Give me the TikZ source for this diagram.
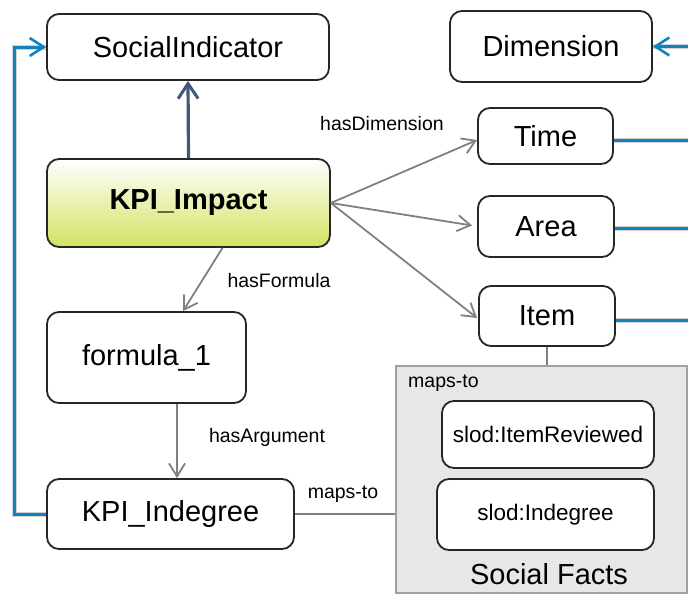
\documentclass[tikz,border=0pt]{standalone}
\usepackage{fontspec}
\setmainfont{Liberation Sans}
\usetikzlibrary{arrows.meta,calc}
\definecolor{linkblue}{RGB}{16,130,192}
\definecolor{slateblue}{RGB}{64,88,126}
\definecolor{relgrey}{RGB}{128,128,130}
\definecolor{factfill}{RGB}{230,231,232}
\definecolor{factedge}{RGB}{160,160,162}
\definecolor{kpigreen}{RGB}{212,226,98}
\tikzset{
  box/.style={draw=black!85, line width=1.8pt, rounded corners=12pt, fill=white,
    inner sep=0pt, font=\fontsize{29}{32}\selectfont, align=center},
  smallbox/.style={box, font=\fontsize{22.5}{26}\selectfont},
  rel/.style={draw=relgrey, line width=1.8pt,
    -{Straight Barb[length=13pt,width=16pt,line width=1.8pt]}},
  plainrel/.style={draw=relgrey, line width=1.8pt},
  lbl/.style={font=\fontsize{19.5}{22}\selectfont, inner sep=0pt},
  blueline/.style={draw=linkblue, line width=3pt},
  blueshadow/.style={draw=black, opacity=0.18, line width=5pt},
  bluetip/.style={-{Straight Barb[length=14pt,width=18pt,line width=2.6pt]}},
}
\begin{document}
\begin{tikzpicture}[x=1pt,y=-1pt]
\useasboundingbox (0,0) rectangle (688,595);

% social facts container
\node[draw=factedge, fill=factfill, line width=1.5pt, minimum width=291pt,
      minimum height=227pt, inner sep=0pt] (SF) at (541.5,479.5) {};
\node[lbl, anchor=west] (SFmaps) at (408,383) {maps-to};
\node[font=\fontsize{29}{32}\selectfont, inner sep=0pt] (SFtitle) at (549,574) {Social Facts};

% nodes
\node[box, minimum width=282pt, minimum height=66pt] (SI) at (188,47) {SocialIndicator};
\node[box, minimum width=202pt, minimum height=71pt] (Dim) at (551,46.5) {Dimension};
\node[box, minimum width=135pt, minimum height=56pt] (Time) at (545.5,136) {Time};
\node[box, minimum width=136pt, minimum height=61pt] (Area) at (546,226.5) {Area};
\node[box, minimum width=136pt, minimum height=60pt] (Item) at (547,316) {Item};
\node[box, top color=white, bottom color=kpigreen, minimum width=283pt,
      minimum height=88pt, font=\fontsize{29}{32}\selectfont\bfseries] (KPI) at (188.5,203) {KPI\_Impact};
\node[box, minimum width=199pt, minimum height=91pt] (F1) at (146.5,357.5) {formula\_1};
\node[box, minimum width=247pt, minimum height=70pt] (KIn) at (170.5,514) {KPI\_Indegree};
\node[smallbox, minimum width=212pt, minimum height=67pt] (IR) at (548,434.5) {slod:ItemReviewed};
\node[smallbox, minimum width=217pt, minimum height=71pt] (SInd) at (545.5,514.5) {slod:Indegree};

% edge labels
\node[lbl] (lDim) at (382,124) {hasDimension};
\node[lbl] (lForm) at (279,281) {hasFormula};
\node[lbl] (lArg) at (267,437) {hasArgument};
\node[lbl] (lMap) at (343,494) {maps-to};

% free ends leaving the right margin
\coordinate (timeOut) at (690,140);
\coordinate (areaOut) at (690,228);
\coordinate (itemOut) at (690,320);
\coordinate (dimIn) at (690,46.5);

% blue links (with soft shadow); yshift is in canvas units, so negative is downwards
\begin{scope}[shift={(2,3)}]
  \draw[blueshadow] (KIn.west) -- ++(-32,0) |- (SI.west);
  \draw[blueshadow] (Time.east |- timeOut) -- (timeOut);
  \draw[blueshadow] (Area.east |- areaOut) -- (areaOut);
  \draw[blueshadow] (Item.east |- itemOut) -- (itemOut);
  \draw[blueshadow] (dimIn) -- (Dim.east);
\end{scope}
\draw[blueline, bluetip] (KIn.west) -- ++(-32,0) |- (SI.west);
\draw[blueline] (Time.east |- timeOut) -- (timeOut);
\draw[blueline] (Area.east |- areaOut) -- (areaOut);
\draw[blueline] (Item.east |- itemOut) -- (itemOut);
\draw[blueline, bluetip] (dimIn) -- (Dim.east);

% subclass arrow
\draw[draw=slateblue, line width=3.2pt,
      -{Straight Barb[length=15pt,width=20pt,line width=3pt]}] (KPI.north) -- (SI.south);

% object properties
\draw[rel] (KPI.east) -- ([yshift=-4]Time.west);
\draw[rel] (KPI.east) -- ([xshift=-5,yshift=1]Area.west);
\draw[rel] (KPI.east) -- ([xshift=-1,yshift=-2]Item.west);
\draw[rel] ([xshift=34]KPI.south) -- ([xshift=36.5]F1.north);
\draw[rel] ([xshift=6.5]KIn.north |- F1.south) -- ([xshift=6.5]KIn.north);
\draw[plainrel] (KIn.east) -- (KIn.east -| SF.west);
\draw[plainrel] (Item.south) -- (Item.south |- SF.north);
\end{tikzpicture}
\end{document}
